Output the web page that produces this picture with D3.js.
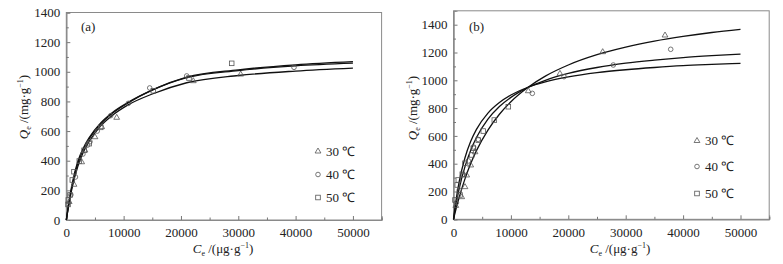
<!DOCTYPE html>
<html><head><meta charset="utf-8">
<script src="https://cdn.jsdelivr.net/npm/d3@7"></script>
<style>
body{margin:0;background:#fff;}
svg text{fill:#222;}
</style></head>
<body><svg id="c" width="783" height="264" font-family="Liberation Serif"></svg>
<script>
// ---------- data ----------
const seriesNames = ["30 ℃", "40 ℃", "50 ℃"];
const xTicks = [0, 10000, 20000, 30000, 40000, 50000];
const yTicks = [0, 200, 400, 600, 800, 1000, 1200, 1400];

// panel (a) measured points
const a30C = [500, 1340, 2680, 3260, 5000, 6170, 8790, 22150, 30420];
const a30Q = [125, 241, 393, 472, 562, 630, 693, 940, 985];
const a40C = [800, 1600, 2900, 3700, 4130, 5400, 7740, 10820, 14550, 21000, 39720];
const a40Q = [170, 290, 445, 505, 528, 600, 704, 787, 891, 972, 1030];
const a50C = [300, 350, 650, 1050, 1340, 2270, 3100, 4000, 6000, 15180, 21400, 28850];
const a50Q = [105, 135, 169, 270, 326, 398, 470, 515, 625, 872, 958, 1057];
// panel (a) fitted curves
const aFitC  = [0, 250, 500, 1000, 2000, 3000, 4000, 6000, 8000, 10700, 15000, 21000, 30000, 40000, 50000];
const aFit30 = [0, 60, 115, 215, 360, 460, 530, 635, 705, 775, 850, 926, 975, 1005, 1025];
const aFit40 = [0, 62, 122, 228, 382, 478, 548, 648, 718, 788, 878, 964, 1013, 1047, 1068];
const aFit50 = [0, 68, 130, 240, 395, 488, 556, 655, 724, 792, 876, 960, 1008, 1040, 1058];

// panel (b) measured points
const b30C = [400, 1430, 2000, 2300, 3000, 3750, 13030, 18550, 25990, 36850];
const b30Q = [100, 163, 235, 319, 391, 486, 925, 1050, 1206, 1326];
const b40C = [500, 1000, 1700, 2600, 3500, 4300, 13730, 19250, 27840, 37840];
const b40Q = [120, 210, 320, 420, 520, 575, 906, 1026, 1110, 1223];
const b50C = [260, 660, 840, 1130, 1530, 2000, 3170, 3450, 4320, 5190, 7110, 9550];
const b50Q = [139, 247, 283, 175, 324, 403, 463, 511, 570, 635, 714, 810];
// panel (b) fitted curves
const bFitC  = [0, 250, 500, 1000, 2000, 3000, 4000, 6000, 8000, 10000, 13000, 16000, 20000, 25000, 30000, 35000, 40000, 45000, 50000];
const bFit30 = [0, 43, 84, 160, 291, 401, 494, 642, 756, 846, 950, 1030, 1110, 1184, 1239, 1282, 1316, 1344, 1367];
const bFit40 = [0, 64, 121, 222, 379, 497, 588, 720, 811, 877, 949, 1000, 1049, 1092, 1123, 1145, 1163, 1177, 1189];
const bFit50 = [0, 82, 153, 272, 443, 561, 647, 764, 840, 894, 950, 988, 1024, 1055, 1076, 1092, 1105, 1114, 1122];

// ---------- drawing ----------
const FONT = "Liberation Serif";
const svg = d3.select("#c");
const zip = (xs, ys) => xs.map((x, i) => [x, ys[i]]);

function marker(g, type, x, y) {
  const s = 2.6;
  let el;
  if (type === 0) {
    el = g.append("path").attr("d", `M${x},${y - s - 0.4}L${x + s + 0.3},${y + s - 0.6}L${x - s - 0.3},${y + s - 0.6}Z`);
  } else if (type === 1) {
    el = g.append("circle").attr("cx", x).attr("cy", y).attr("r", s - 0.3);
  } else {
    el = g.append("rect").attr("x", x - s + 0.3).attr("y", y - s + 0.3).attr("width", 2 * s - 0.6).attr("height", 2 * s - 0.6);
  }
  el.attr("fill", "none").attr("stroke", "#555").attr("stroke-width", 0.8);
}

function panel(cfg) {
  const x = d3.scaleLinear().domain([0, 55000]).range([cfg.x0, cfg.x1]);
  const y = d3.scaleLinear().domain([0, cfg.yMax]).range([cfg.y0, cfg.y1]);
  const g = svg.append("g");

  // frame
  g.append("rect").attr("x", cfg.x0).attr("y", cfg.y1).attr("width", cfg.x1 - cfg.x0).attr("height", cfg.y0 - cfg.y1)
    .attr("fill", "none").attr("stroke", "#8a8a8a").attr("stroke-width", 1);

  // axes
  const fmt = d3.format("d");
  const xAx = g.append("g").attr("transform", `translate(0,${cfg.y0})`)
    .call(d3.axisBottom(x).tickValues(xTicks).tickFormat(fmt).tickSize(-4).tickPadding(8));
  const xMin = g.append("g").attr("transform", `translate(0,${cfg.y0})`)
    .call(d3.axisBottom(x).tickValues([5000, 15000, 25000, 35000, 45000, 55000]).tickFormat("").tickSize(-2.5));
  const yAx = g.append("g").attr("transform", `translate(${cfg.x0},0)`)
    .call(d3.axisLeft(y).tickValues(yTicks).tickFormat(fmt).tickSize(-4).tickPadding(6));
  const yMin = g.append("g").attr("transform", `translate(${cfg.x0},0)`)
    .call(d3.axisLeft(y).tickValues(d3.range(100, cfg.yMax, 200)).tickFormat("").tickSize(-2.5));
  [xAx, xMin, yAx, yMin].forEach(a => {
    a.attr("font-family", FONT);
    a.select(".domain").attr("stroke", "#8a8a8a");
    a.selectAll("line").attr("stroke", "#777");
    a.selectAll("text").attr("font-size", 13).attr("fill", "#222").attr("font-family", FONT);
  });

  // fitted curves
  const line = d3.line().x(d => x(d[0])).y(d => y(d[1])).curve(d3.curveMonotoneX);
  cfg.fits.forEach(f => {
    g.append("path").datum(zip(cfg.fitC, f)).attr("d", line)
      .attr("fill", "none").attr("stroke", "#111").attr("stroke-width", 1.3);
  });

  // points
  cfg.pts.forEach((p, k) => {
    zip(p[0], p[1]).forEach(d => marker(g, k, x(d[0]), y(d[1])));
  });

  // panel label
  g.append("text").attr("x", cfg.labX).attr("y", cfg.labY).attr("font-size", 13).attr("font-family", FONT).text(cfg.label);

  // legend
  seriesNames.forEach((n, k) => {
    const ly = cfg.legY[k];
    marker(g, k, cfg.legX, ly);
    g.append("text").attr("x", cfg.legX + 8).attr("y", ly + 4.5).attr("font-size", 13).attr("font-family", FONT).text(n);
  });

  // axis titles
  const xt = g.append("text").attr("x", cfg.xtX).attr("y", 253).attr("text-anchor", "middle").attr("font-size", 13).attr("font-family", FONT);
  xt.append("tspan").attr("font-style", "italic").text("C");
  xt.append("tspan").attr("font-size", 8).attr("dy", 3).text("e");
  xt.append("tspan").attr("dy", -3).text(" /(μg·g");
  xt.append("tspan").attr("font-size", 8).attr("dy", -5).text("−1");
  xt.append("tspan").attr("dy", 5).text(")");

  const yt = g.append("text").attr("transform", `translate(${cfg.ytX},${cfg.ytY}) rotate(-90)`)
    .attr("text-anchor", "middle").attr("font-size", 13).attr("font-family", FONT);
  yt.append("tspan").attr("font-style", "italic").text("Q");
  yt.append("tspan").attr("font-size", 8).attr("dy", 3).text("e");
  yt.append("tspan").attr("dy", -3).text(" /(mg·g");
  yt.append("tspan").attr("font-size", 8).attr("dy", -5).text("−1");
  yt.append("tspan").attr("dy", 5).text(")");
}

panel({
  x0: 66.3, x1: 381.6, y0: 220, y1: 12.5, yMax: 1400,
  fitC: aFitC, fits: [aFit30, aFit40, aFit50],
  pts: [[a30C, a30Q], [a40C, a40Q], [a50C, a50Q]],
  label: "(a)", labX: 81, labY: 31,
  legX: 318, legY: [151, 174.5, 197.5],
  xtX: 223, ytX: 28, ytY: 107
});
panel({
  x0: 453.5, x1: 769.2, y0: 219.3, y1: 10.8, yMax: 1500,
  fitC: bFitC, fits: [bFit30, bFit40, bFit50],
  pts: [[b30C, b30Q], [b40C, b40Q], [b50C, b50Q]],
  label: "(b)", labX: 469, labY: 31,
  legX: 697, legY: [140.5, 166.5, 193.5],
  xtX: 620, ytX: 417, ytY: 108
});
</script></body></html>
